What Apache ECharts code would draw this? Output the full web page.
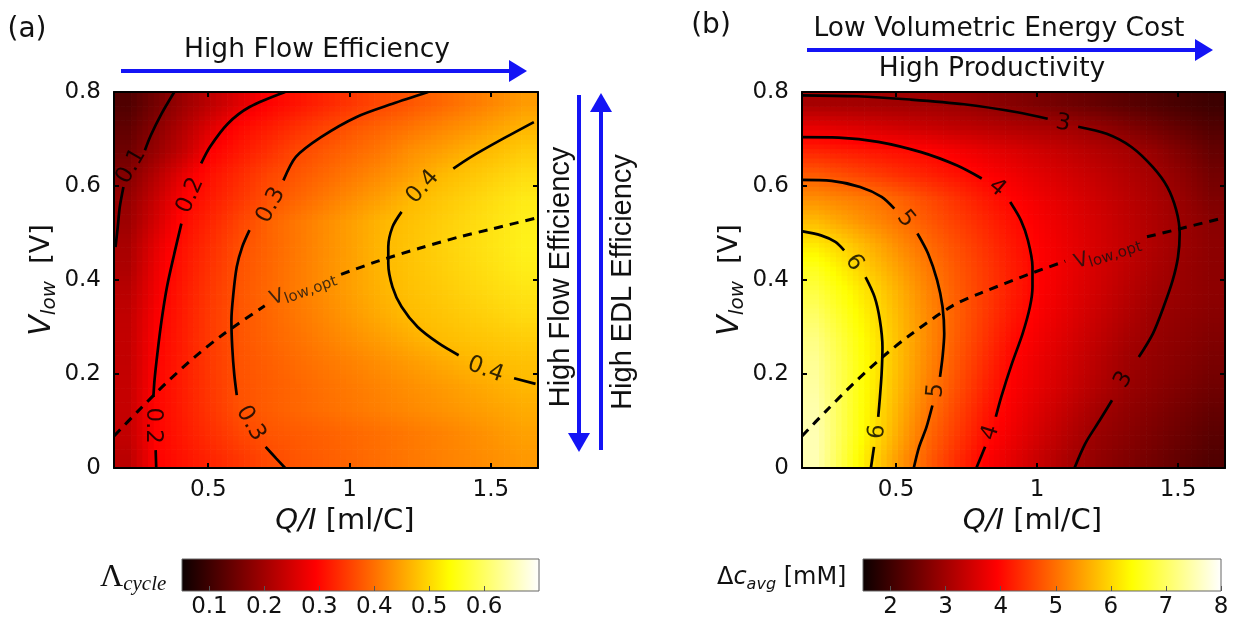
<!DOCTYPE html>
<html>
<head>
<meta charset="utf-8">
<script src="https://cdn.jsdelivr.net/npm/echarts@6/dist/echarts.min.js"></script>
<style>
  html, body { margin: 0; padding: 0; background: #fff; }
  #chart { width: 1235px; height: 621px; }
</style>
</head>
<body>
<div id="chart"></div>
<script>
// cell centres of the two maps (Q/I in ml/C, V_low in V)
var qCenters = [0.217, 0.317, 0.417, 0.517, 0.617, 0.717, 0.817, 0.917, 1.017, 1.117, 1.217, 1.317, 1.417, 1.517, 1.617];
var vCenters = [0.025, 0.075, 0.125, 0.175, 0.225, 0.275, 0.325, 0.375, 0.425, 0.475, 0.525, 0.575, 0.625, 0.675, 0.725, 0.775];

// (a) Lambda_cycle, one row per vCenter, bottom row first
var effRows = [
  [0.141, 0.201, 0.224, 0.247, 0.270, 0.293, 0.306, 0.313, 0.321, 0.329, 0.337, 0.345, 0.352, 0.360, 0.368],
  [0.148, 0.203, 0.232, 0.260, 0.288, 0.305, 0.310, 0.316, 0.323, 0.330, 0.338, 0.346, 0.355, 0.365, 0.376],
  [0.150, 0.205, 0.237, 0.270, 0.302, 0.312, 0.321, 0.329, 0.337, 0.345, 0.353, 0.361, 0.369, 0.377, 0.386],
  [0.150, 0.204, 0.238, 0.272, 0.302, 0.312, 0.321, 0.331, 0.340, 0.350, 0.359, 0.368, 0.378, 0.387, 0.396],
  [0.148, 0.202, 0.238, 0.274, 0.303, 0.314, 0.326, 0.337, 0.348, 0.359, 0.370, 0.382, 0.393, 0.402, 0.408],
  [0.148, 0.200, 0.238, 0.277, 0.305, 0.319, 0.332, 0.346, 0.360, 0.373, 0.387, 0.401, 0.410, 0.418, 0.426],
  [0.146, 0.196, 0.236, 0.276, 0.305, 0.321, 0.337, 0.353, 0.370, 0.386, 0.401, 0.412, 0.424, 0.435, 0.447],
  [0.140, 0.190, 0.233, 0.273, 0.306, 0.323, 0.341, 0.358, 0.376, 0.393, 0.408, 0.421, 0.435, 0.448, 0.460],
  [0.130, 0.185, 0.228, 0.267, 0.303, 0.321, 0.340, 0.359, 0.377, 0.396, 0.412, 0.427, 0.443, 0.458, 0.474],
  [0.126, 0.178, 0.222, 0.260, 0.299, 0.319, 0.338, 0.358, 0.377, 0.397, 0.413, 0.430, 0.447, 0.463, 0.480],
  [0.116, 0.164, 0.213, 0.249, 0.287, 0.318, 0.337, 0.357, 0.376, 0.395, 0.409, 0.426, 0.443, 0.460, 0.477],
  [0.108, 0.153, 0.200, 0.234, 0.268, 0.301, 0.320, 0.339, 0.358, 0.376, 0.396, 0.415, 0.433, 0.451, 0.469],
  [0.095, 0.137, 0.182, 0.222, 0.254, 0.287, 0.306, 0.323, 0.340, 0.357, 0.374, 0.396, 0.413, 0.431, 0.449],
  [0.080, 0.112, 0.151, 0.200, 0.230, 0.260, 0.291, 0.308, 0.323, 0.338, 0.359, 0.373, 0.389, 0.404, 0.423],
  [0.070, 0.099, 0.137, 0.176, 0.210, 0.235, 0.261, 0.286, 0.306, 0.320, 0.334, 0.349, 0.363, 0.378, 0.393],
  [0.058, 0.085, 0.117, 0.146, 0.175, 0.202, 0.224, 0.247, 0.270, 0.292, 0.306, 0.321, 0.337, 0.353, 0.370]
];

// (b) delta c_avg [mM], same layout
var dcRows = [
  [7.52, 6.75, 5.99, 5.37, 4.82, 4.37, 3.95, 3.67, 3.38, 3.10, 2.90, 2.74, 2.59, 2.43, 2.28],
  [7.51, 6.82, 6.14, 5.51, 4.93, 4.50, 4.07, 3.77, 3.49, 3.21, 2.96, 2.82, 2.67, 2.52, 2.37],
  [7.47, 6.82, 6.17, 5.59, 5.04, 4.60, 4.17, 3.84, 3.58, 3.32, 3.06, 2.89, 2.75, 2.61, 2.47],
  [7.40, 6.80, 6.20, 5.66, 5.14, 4.69, 4.26, 3.90, 3.67, 3.43, 3.19, 2.97, 2.84, 2.70, 2.57],
  [7.32, 6.77, 6.22, 5.70, 5.21, 4.76, 4.34, 3.95, 3.72, 3.49, 3.25, 3.02, 2.89, 2.78, 2.66],
  [7.20, 6.70, 6.20, 5.71, 5.24, 4.81, 4.42, 4.03, 3.79, 3.56, 3.33, 3.10, 2.94, 2.84, 2.73],
  [7.02, 6.57, 6.12, 5.67, 5.23, 4.84, 4.48, 4.13, 3.86, 3.64, 3.41, 3.19, 2.98, 2.89, 2.80],
  [6.80, 6.41, 6.02, 5.60, 5.18, 4.82, 4.50, 4.18, 3.91, 3.69, 3.48, 3.26, 3.05, 2.94, 2.85],
  [6.56, 6.18, 5.81, 5.45, 5.08, 4.77, 4.48, 4.19, 3.93, 3.73, 3.52, 3.32, 3.12, 2.96, 2.85],
  [6.18, 5.93, 5.60, 5.26, 4.95, 4.68, 4.41, 4.14, 3.91, 3.72, 3.53, 3.35, 3.16, 2.99, 2.85],
  [5.73, 5.50, 5.26, 5.03, 4.78, 4.54, 4.30, 4.06, 3.86, 3.68, 3.51, 3.33, 3.15, 2.98, 2.82],
  [5.29, 5.17, 5.05, 4.86, 4.63, 4.40, 4.16, 3.95, 3.78, 3.62, 3.45, 3.29, 3.12, 2.94, 2.71],
  [4.80, 4.66, 4.52, 4.38, 4.24, 4.10, 3.95, 3.80, 3.65, 3.50, 3.36, 3.21, 3.06, 2.85, 2.61],
  [4.27, 4.20, 4.13, 4.06, 3.98, 3.85, 3.72, 3.60, 3.47, 3.34, 3.21, 3.09, 2.93, 2.70, 2.47],
  [3.72, 3.65, 3.57, 3.49, 3.42, 3.34, 3.27, 3.19, 3.12, 3.04, 2.92, 2.76, 2.60, 2.44, 2.28],
  [3.09, 3.07, 3.05, 3.03, 3.01, 2.97, 2.87, 2.77, 2.67, 2.56, 2.46, 2.36, 2.26, 2.15, 2.05]
];

// contour pieces (gaps are where the level labels sit)
var effLines = [
  [[0.380, 0.800], [0.335, 0.754], [0.297, 0.708], [0.276, 0.676]],
  [[0.200, 0.598], [0.187, 0.555], [0.180, 0.513], [0.172, 0.470]],
  [[0.772, 0.800], [0.646, 0.768], [0.570, 0.733], [0.506, 0.683], [0.475, 0.648]],
  [[0.405, 0.520], [0.380, 0.456], [0.354, 0.385], [0.335, 0.314], [0.320, 0.243], [0.310, 0.187], [0.306, 0.151]],
  [[0.314, 0.038], [0.316, 0.000]],
  [[1.278, 0.800], [1.152, 0.775], [1.025, 0.747], [0.899, 0.704], [0.810, 0.662], [0.766, 0.612]],
  [[0.646, 0.506], [0.620, 0.470], [0.601, 0.428], [0.589, 0.371], [0.582, 0.314], [0.585, 0.257], [0.592, 0.200], [0.601, 0.155]],
  [[0.703, 0.045], [0.741, 0.020], [0.772, 0.000]],
  [[1.652, 0.736], [1.532, 0.697], [1.430, 0.662], [1.367, 0.637]],
  [[1.184, 0.545], [1.152, 0.513], [1.137, 0.470], [1.137, 0.435], [1.152, 0.385], [1.184, 0.343], [1.241, 0.300], [1.316, 0.265], [1.386, 0.240]],
  [[1.582, 0.191], [1.658, 0.179]]
];
var effLabels = [[0.228, 0.642, '0.1'], [0.437, 0.580, '0.2'], [0.304, 0.090, '0.2'], [0.722, 0.559, '0.3'],
  [0.650, 0.095, '0.3'], [1.259, 0.598, '0.4'], [1.481, 0.209, '0.4']];
var effLabelAngles = [60, 66, -90, 62, -60, 48, -20];

var dcLines = [
  [[0.165, 0.793], [0.361, 0.791], [0.551, 0.784], [0.741, 0.774], [0.930, 0.757], [1.038, 0.743]],
  [[1.146, 0.726], [1.247, 0.711], [1.335, 0.683], [1.411, 0.640], [1.462, 0.598], [1.494, 0.548], [1.506, 0.499], [1.500, 0.449], [1.481, 0.399], [1.449, 0.343], [1.411, 0.286], [1.361, 0.236]],
  [[1.266, 0.144], [1.222, 0.101], [1.171, 0.052], [1.133, 0.000]],
  [[0.165, 0.704], [0.297, 0.703], [0.437, 0.694], [0.589, 0.672], [0.715, 0.644], [0.804, 0.616]],
  [[0.905, 0.566], [0.943, 0.527], [0.968, 0.484], [0.984, 0.428], [0.984, 0.385], [0.975, 0.343], [0.949, 0.286], [0.911, 0.222], [0.873, 0.151], [0.854, 0.109]],
  [[0.816, 0.045], [0.785, 0.000]],
  [[0.165, 0.613], [0.272, 0.611], [0.373, 0.598], [0.449, 0.577], [0.494, 0.552]],
  [[0.576, 0.499], [0.614, 0.456], [0.646, 0.399], [0.665, 0.343], [0.671, 0.286], [0.665, 0.236], [0.656, 0.194]],
  [[0.629, 0.133], [0.608, 0.087], [0.582, 0.045], [0.563, 0.000]],
  [[0.165, 0.504], [0.234, 0.495], [0.285, 0.481], [0.316, 0.463]],
  [[0.392, 0.406], [0.424, 0.364], [0.443, 0.314], [0.452, 0.257], [0.449, 0.201], [0.443, 0.151], [0.437, 0.109]],
  [[0.422, 0.045], [0.411, 0.000]]
];
var dcLabels = [[1.092, 0.733, '3'], [1.308, 0.188, '3'], [0.858, 0.596, '4'], [0.835, 0.075, '4'],
  [0.535, 0.530, '5'], [0.642, 0.165, '5'], [0.351, 0.437, '6'], [0.434, 0.077, '6']];
var dcLabelAngles = [-10, 60, -40, 72, -50, 85, -55, 85];

// optimal V_low curve, shared by both panels
var vOptCurve = [[0.167, 0.068], [0.25, 0.12], [0.35, 0.18], [0.45, 0.235], [0.55, 0.283], [0.70, 0.345], [0.80, 0.372],
  [0.97, 0.412], [1.10, 0.44], [1.25, 0.468], [1.39, 0.492], [1.50, 0.508], [1.667, 0.533]];
var vOptLabelA = [0.835, 0.382];
var vOptLabelB = [1.250, 0.458];

var qTicks = [0.5, 1, 1.5];
var effTicks = [0.1, 0.2, 0.3, 0.4, 0.5, 0.6];
var dcTicks = [2, 3, 4, 5, 6, 7, 8];

var hot = ['#0b0000', '#550000', '#aa0000', '#ff0000', '#ff5500', '#ffaa00', '#ffff00', '#ffff80', '#ffffff'];
var effPalette = ['#000000', '#8a0000', '#ff0000', '#ff5000', '#ffbb00', '#ffff20'];
var hotStops = [
  { offset: 0, color: '#0b0000' }, { offset: 0.375, color: '#ff0000' },
  { offset: 0.75, color: '#ffff00' }, { offset: 1, color: '#ffffff' }
];
var FONT = 'DejaVu Sans';
var CLEAR = 'rgba(0,0,0,0)';
var SUB = 5; // shading steps inside each cell

function cells(rows) {
  var out = [];
  rows.forEach(function (row, j) {
    row.forEach(function (v, i) { out.push([qCenters[i], vCenters[j], v]); });
  });
  return out;
}

// each cell is drawn as SUB x SUB shaded patches between the neighbouring cell centres
function shadedCells(rows, lo, hi, palette) {
  var nx = qCenters.length, ny = vCenters.length;
  var dx = qCenters[1] - qCenters[0], dy = vCenters[1] - vCenters[0];
  function at(u, v) {
    u = Math.max(0, Math.min(nx - 1, u));
    v = Math.max(0, Math.min(ny - 1, v));
    var i0 = Math.min(Math.floor(u), nx - 2), j0 = Math.min(Math.floor(v), ny - 2);
    var fu = u - i0, fv = v - j0;
    return rows[j0][i0] * (1 - fu) * (1 - fv) + rows[j0][i0 + 1] * fu * (1 - fv) +
      rows[j0 + 1][i0] * (1 - fu) * fv + rows[j0 + 1][i0 + 1] * fu * fv;
  }
  return function (params, api) {
    var i = params.dataIndex % nx, j = Math.floor(params.dataIndex / nx);
    var x = api.value(0), y = api.value(1);
    var kids = [];
    for (var a = 0; a < SUB; a++) {
      for (var b = 0; b < SUB; b++) {
        var t = (at(i + (a + 0.5) / SUB - 0.5, j + (b + 0.5) / SUB - 0.5) - lo) / (hi - lo);
        t = Math.max(0, Math.min(1, t));
        var p0 = api.coord([x + (a / SUB - 0.5) * dx, y + ((b + 1) / SUB - 0.5) * dy]);
        var p1 = api.coord([x + ((a + 1) / SUB - 0.5) * dx, y + (b / SUB - 0.5) * dy]);
        kids.push({
          type: 'rect',
          shape: { x: p0[0], y: p0[1], width: p1[0] - p0[0] + 0.7, height: p1[1] - p0[1] + 0.7 },
          style: { fill: echarts.color.lerp(t, palette) }
        });
      }
    }
    return { type: 'group', children: kids };
  };
}

function plotX(grid, pos, show) {
  return {
    type: 'value', gridIndex: grid, position: pos, min: 1 / 6, max: 5 / 3, z: 10,
    splitLine: { show: false },
    axisLine: { show: true, onZero: false, lineStyle: { color: '#000', width: 2 } },
    axisTick: { show: true, inside: true, length: 5, customValues: qTicks, lineStyle: { color: '#000', width: 2 } },
    axisLabel: { show: show, customValues: qTicks, margin: 11, color: '#111', fontSize: 23, fontFamily: FONT },
    name: show ? '{i|Q/I} [ml/C]' : '', nameLocation: 'middle', nameGap: 38,
    nameTextStyle: { color: '#111', fontSize: 29, fontFamily: FONT, padding: [0, 0, 0, 38],
      rich: { i: { fontStyle: 'italic', fontSize: 29, fontFamily: FONT, color: '#111' } } }
  };
}
function plotY(grid, pos, show) {
  return {
    type: 'value', gridIndex: grid, position: pos, min: 0, max: 0.8, interval: 0.2, z: 10,
    splitLine: { show: false },
    axisLine: { show: true, onZero: false, lineStyle: { color: '#000', width: 2 } },
    axisTick: { show: true, inside: true, length: 5, lineStyle: { color: '#000', width: 2 } },
    axisLabel: { show: show, margin: 13, color: '#111', fontSize: 23, fontFamily: FONT },
    name: show ? '{i|V}{s|low}  [V]' : '', nameLocation: 'middle', nameGap: 54,
    nameTextStyle: { color: '#111', fontSize: 27, fontFamily: FONT,
      rich: {
        i: { fontStyle: 'italic', fontSize: 30, fontFamily: FONT, color: '#111', lineHeight: 36, verticalAlign: 'middle' },
        s: { fontStyle: 'italic', fontSize: 20, fontFamily: FONT, color: '#111', lineHeight: 20, verticalAlign: 'bottom' }
      } }
  };
}
function barX(grid, min, max, ticks) {
  return {
    type: 'value', gridIndex: grid, min: min, max: max,
    splitLine: { show: false }, axisLine: { show: false },
    axisTick: { show: true, inside: true, length: 5, customValues: ticks, lineStyle: { color: '#555', width: 1 } },
    axisLabel: { customValues: ticks, margin: 5, color: '#111', fontSize: 23, fontFamily: FONT }
  };
}

var series = [
  { type: 'custom', xAxisIndex: 0, yAxisIndex: 0, renderItem: shadedCells(effRows, 0, 0.5, effPalette),
    data: cells(effRows), clip: true, silent: true, z: 1 },
  { type: 'custom', xAxisIndex: 2, yAxisIndex: 2, renderItem: shadedCells(dcRows, 1.5, 8, hot),
    data: cells(dcRows), clip: true, silent: true, z: 1 }
];

function addLines(pieces, xi, yi, dashed) {
  pieces.forEach(function (pts) {
    series.push({
      type: 'line', xAxisIndex: xi, yAxisIndex: yi, data: pts, smooth: 0.3, symbol: 'none', silent: true, z: 4,
      lineStyle: { color: '#000', width: dashed ? 3 : 2.7, type: dashed ? [9, 7] : 'solid' }
    });
  });
}
function splitCurve(curve, lo, hi) {
  var a = curve.filter(function (p) { return p[0] <= lo; });
  var b = curve.filter(function (p) { return p[0] >= hi; });
  return [a, b];
}
function addLabels(labels, angles, xi, yi) {
  series.push({
    type: 'scatter', xAxisIndex: xi, yAxisIndex: yi, symbolSize: 2, itemStyle: { color: CLEAR }, silent: true, z: 5,
    label: { show: true, position: 'inside', formatter: '{b}', color: '#000', fontSize: 23, fontFamily: FONT },
    data: labels.map(function (l, k) { return { name: l[2], value: [l[0], l[1]], label: { rotate: angles[k] } }; })
  });
}
function addOptLabel(pos, angle, xi, yi) {
  series.push({
    type: 'scatter', xAxisIndex: xi, yAxisIndex: yi, symbolSize: 2, itemStyle: { color: CLEAR }, silent: true, z: 5,
    label: { show: true, position: 'inside', rotate: angle, formatter: '{v|V}{s|low,opt}',
      rich: { v: { fontSize: 20, fontFamily: FONT, color: '#111', lineHeight: 24, verticalAlign: 'middle' },
              s: { fontSize: 15, fontFamily: FONT, color: '#111', lineHeight: 15, verticalAlign: 'bottom' } } },
    data: [pos]
  });
}

addLines(effLines, 0, 0, false);
addLines(splitCurve(vOptCurve, 0.70, 0.97), 0, 0, true);
addLabels(effLabels, effLabelAngles, 0, 0);
addOptLabel(vOptLabelA, 20, 0, 0);
addLines(dcLines, 2, 2, false);
addLines(splitCurve(vOptCurve, 1.10, 1.39), 2, 2, true);
addLabels(dcLabels, dcLabelAngles, 2, 2);
addOptLabel(vOptLabelB, 18, 2, 2);

var blue = '#1414f5';
function hArrow(x1, x2, y) {
  return [
    { type: 'line', shape: { x1: x1, y1: y, x2: x2 - 16, y2: y }, style: { stroke: blue, lineWidth: 4 } },
    { type: 'polygon', shape: { points: [[x2 - 18, y - 11], [x2, y], [x2 - 18, y + 11]] }, style: { fill: blue } }
  ];
}
function vArrow(x, yFrom, yTo) {
  var d = yTo > yFrom ? 1 : -1;
  return [
    { type: 'line', shape: { x1: x, y1: yFrom, x2: x, y2: yTo - d * 16 }, style: { stroke: blue, lineWidth: 4 } },
    { type: 'polygon', shape: { points: [[x - 11, yTo - d * 19], [x, yTo], [x + 11, yTo - d * 19]] }, style: { fill: blue } }
  ];
}
function txt(x, y, text, size) {
  return { type: 'text', style: { x: x, y: y, text: text, fill: '#111', font: size + 'px "' + FONT + '"', align: 'center', verticalAlign: 'middle' } };
}

var graphics = [].concat(
  hArrow(121, 527, 71),
  hArrow(807, 1213, 50),
  vArrow(579, 95, 452),
  vArrow(601, 450, 93),
  [
    txt(27, 30, '(a)', 28),
    txt(711, 26, '(b)', 28),
    txt(317, 50, 'High Flow Efficiency', 26.5),
    txt(999, 29, 'Low Volumetric Energy Cost', 26.5),
    txt(992, 69, 'High Productivity', 26.5),
    { type: 'text', x: 561, y: 277, rotation: Math.PI / 2,
      style: { text: 'High Flow Efficiency', fill: '#111', font: '29px "Liberation Sans"', align: 'center', verticalAlign: 'middle' } },
    { type: 'text', x: 623, y: 282, rotation: Math.PI / 2,
      style: { text: 'High EDL Efficiency', fill: '#111', font: '29px "Liberation Sans"', align: 'center', verticalAlign: 'middle' } },
    { type: 'text', x: 100, y: 578,
      style: { text: '{L|\u039B}{s|cycle}', align: 'left', verticalAlign: 'middle',
        rich: { L: { fontFamily: 'Liberation Serif', fontSize: 32, fill: '#111', lineHeight: 34, verticalAlign: 'middle' },
                s: { fontFamily: 'Liberation Serif', fontStyle: 'italic', fontSize: 21, fill: '#111', lineHeight: 20, verticalAlign: 'bottom' } } } },
    { type: 'text', x: 717, y: 578,
      style: { text: '{n|\u0394}{i|c}{s|avg}{n| [mM]}', align: 'left', verticalAlign: 'middle',
        rich: { n: { fontFamily: FONT, fontSize: 24, fill: '#111', lineHeight: 30, verticalAlign: 'middle' },
                i: { fontFamily: FONT, fontStyle: 'italic', fontSize: 24, fill: '#111', lineHeight: 30, verticalAlign: 'middle' },
                s: { fontFamily: FONT, fontStyle: 'italic', fontSize: 16, fill: '#111', lineHeight: 16, verticalAlign: 'bottom' } } } }
  ]
);

var chart = echarts.init(document.getElementById('chart'), null, { renderer: 'canvas' });
chart.setOption({
  animation: false,
  backgroundColor: '#fff',
  grid: [
    { left: 114, top: 92, width: 424, height: 376 },
    { left: 802, top: 92, width: 423, height: 376 },
    { left: 182, top: 559, width: 357, height: 32, show: true, borderColor: '#666', borderWidth: 1,
      backgroundColor: { type: 'linear', x: 0, y: 0, x2: 1, y2: 0, colorStops: hotStops } },
    { left: 863, top: 559, width: 358, height: 32, show: true, borderColor: '#666', borderWidth: 1,
      backgroundColor: { type: 'linear', x: 0, y: 0, x2: 1, y2: 0, colorStops: hotStops } }
  ],
  xAxis: [
    plotX(0, 'bottom', true), plotX(0, 'top', false),
    plotX(1, 'bottom', true), plotX(1, 'top', false),
    barX(2, 0.05, 0.7, effTicks), barX(3, 1.5, 8, dcTicks)
  ],
  yAxis: [
    plotY(0, 'left', true), plotY(0, 'right', false),
    plotY(1, 'left', true), plotY(1, 'right', false),
    { type: 'value', gridIndex: 2, show: false, min: 0, max: 1 },
    { type: 'value', gridIndex: 3, show: false, min: 0, max: 1 }
  ],
  graphic: graphics,
  series: series
});
</script>
</body>
</html>
